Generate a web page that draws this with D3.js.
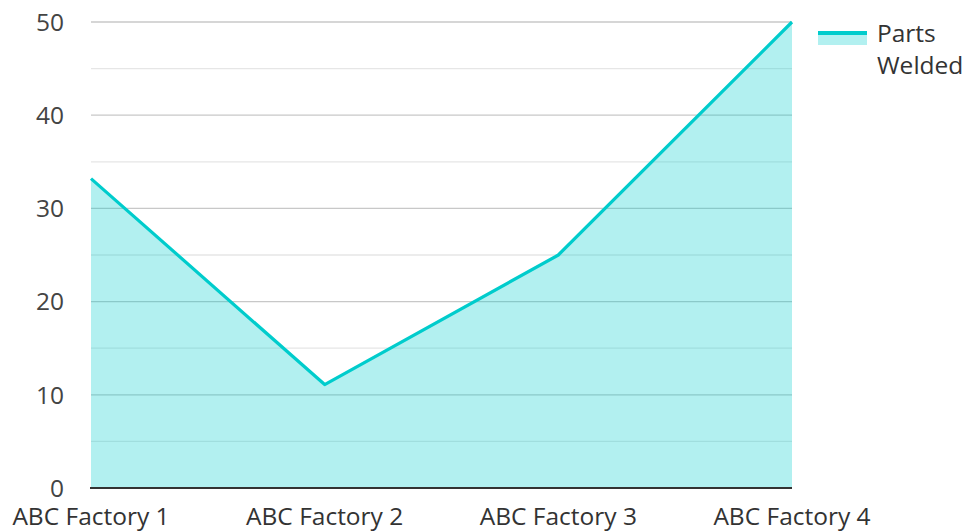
<!DOCTYPE html>
<html>
<head>
<meta charset="utf-8">
<script src="https://cdn.jsdelivr.net/npm/d3@7"></script>
<style>
  body { margin: 0; background: #fff; }
  svg { display: block; font-family: "Open Sans", "Noto Sans", sans-serif; }
</style>
</head>
<body>
<div id="wrapper"></div>
<script>
// data
const factories = ["ABC Factory 1", "ABC Factory 2", "ABC Factory 3", "ABC Factory 4"];
const partsWelded = [33.2, 11.1, 25, 50];
const yTicks = [0, 10, 20, 30, 40, 50];
const seriesName = ["Parts", "Welded"];

let wSvg = 966;
let hSvg = 531;
let plotLeft = 91, plotRight = 792, plotTop = 22, plotBottom = 488;
let lineColor = "#00cccc";
let fontSize = 24.5;

let svg = d3.select("#wrapper")
    .append("svg")
    .attr("width", wSvg)
    .attr("height", hSvg);

let x = d3.scalePoint()
    .domain(factories)
    .range([plotLeft, plotRight]);

let y = d3.scaleLinear()
    .domain([0, 50])
    .range([plotBottom, plotTop]);

// minor gridlines (every 5)
svg.append("g")
    .selectAll("line")
    .data(d3.range(5, 50, 10))
    .enter()
    .append("line")
    .attr("x1", plotLeft).attr("x2", plotRight)
    .attr("y1", d => y(d)).attr("y2", d => y(d))
    .attr("stroke", "#e6e6e6")
    .attr("stroke-width", 1.3);

// major gridlines
svg.append("g")
    .selectAll("line")
    .data(yTicks.filter(d => d > 0))
    .enter()
    .append("line")
    .attr("x1", plotLeft).attr("x2", plotRight)
    .attr("y1", d => y(d)).attr("y2", d => y(d))
    .attr("stroke", "#c8c8c8")
    .attr("stroke-width", 1.3);

let points = factories.map((f, i) => [f, partsWelded[i]]);

let area = d3.area()
    .x(d => x(d[0]))
    .y0(y(0))
    .y1(d => y(d[1]));

svg.append("path")
    .datum(points)
    .attr("d", area)
    .attr("fill", lineColor)
    .attr("fill-opacity", 0.3);

let line = d3.line()
    .x(d => x(d[0]))
    .y(d => y(d[1]));

svg.append("path")
    .datum(points)
    .attr("d", line)
    .attr("fill", "none")
    .attr("stroke", lineColor)
    .attr("stroke-width", 3.2)
    .attr("stroke-linejoin", "round");

// baseline
svg.append("line")
    .attr("x1", plotLeft - 1).attr("x2", plotRight)
    .attr("y1", y(0)).attr("y2", y(0))
    .attr("stroke", "#333")
    .attr("stroke-width", 2);

// y labels
svg.append("g")
    .selectAll("text")
    .data(yTicks)
    .enter()
    .append("text")
    .attr("x", 64)
    .attr("y", d => y(d))
    .attr("dy", "0.36em")
    .attr("text-anchor", "end")
    .attr("font-size", fontSize)
    .attr("fill", "#444")
    .text(d => d);

// x labels
svg.append("g")
    .selectAll("text")
    .data(factories)
    .enter()
    .append("text")
    .attr("x", d => x(d))
    .attr("y", 525)
    .attr("text-anchor", "middle")
    .attr("font-size", fontSize)
    .attr("fill", "#333")
    .text(d => d);

// legend
let legend = svg.append("g");
legend.append("rect")
    .attr("x", 818).attr("y", 33)
    .attr("width", 49).attr("height", 12)
    .attr("fill", lineColor)
    .attr("fill-opacity", 0.3);
legend.append("line")
    .attr("x1", 818).attr("x2", 867)
    .attr("y1", 33).attr("y2", 33)
    .attr("stroke", lineColor)
    .attr("stroke-width", 4);
legend.selectAll("text.lg")
    .data(seriesName)
    .enter()
    .append("text")
    .attr("class", "lg")
    .attr("x", 877)
    .attr("y", (d, i) => 42 + i * 32)
    .attr("font-size", fontSize)
    .attr("fill", "#333")
    .text(d => d);
</script>
</body>
</html>
